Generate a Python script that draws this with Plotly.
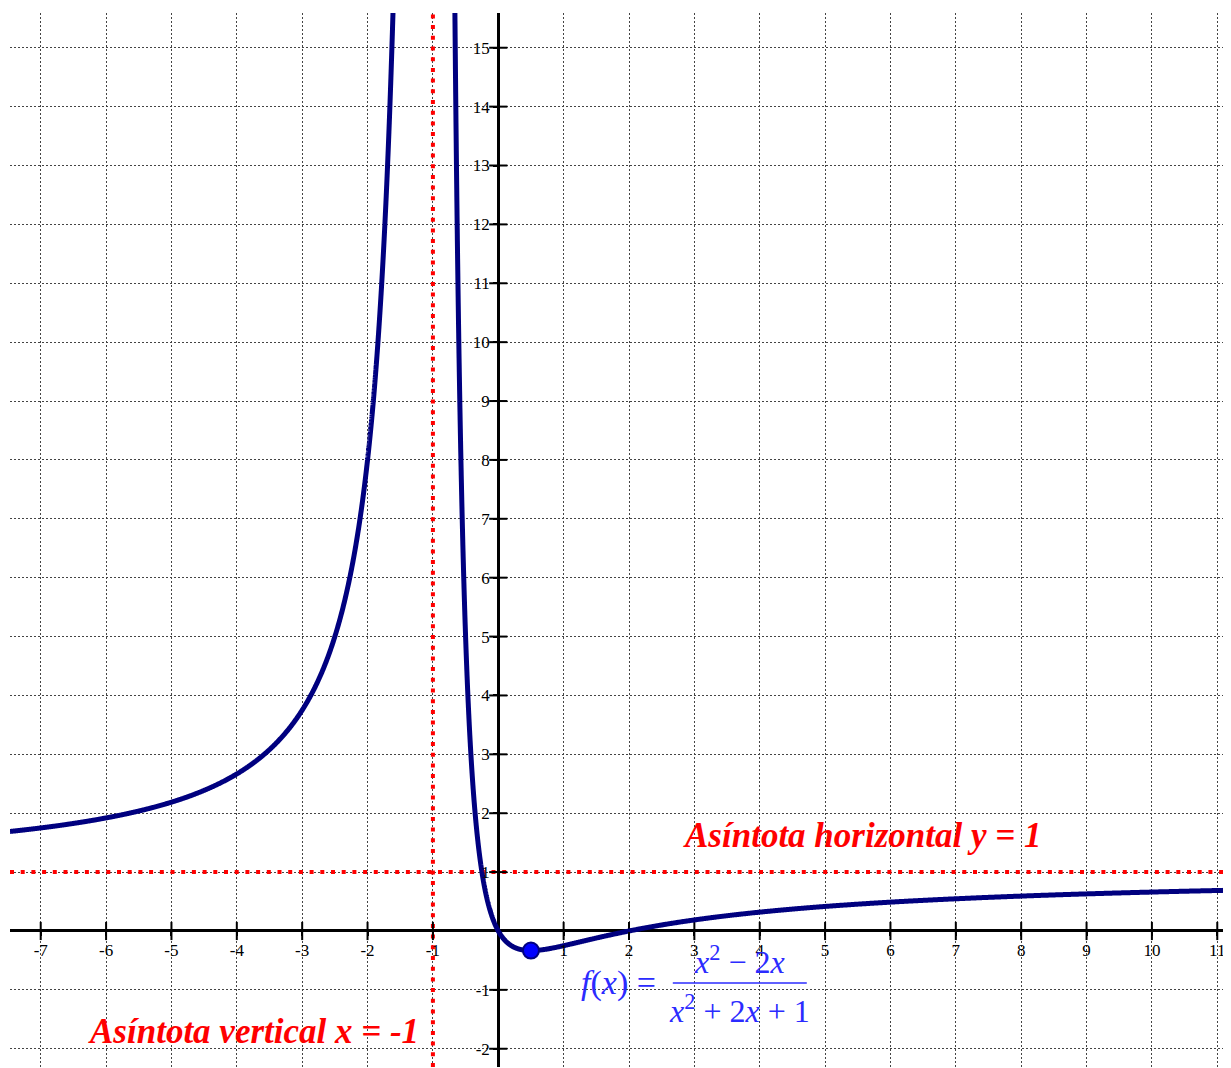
import numpy as np
import plotly.graph_objects as go

# ---- data (function shown in the chart: f(x) = (x^2 - 2x) / (x^2 + 2x + 1)) ----
num_coeffs = [1, -2, 0]     # x^2 - 2x
den_coeffs = [1, 2, 1]      # x^2 + 2x + 1
asym_vertical_x = -1
asym_horizontal_y = 1
min_point_x = [0.5]
min_point_y = [-1 / 3]

x_tick_vals = [-7, -6, -5, -4, -3, -2, -1, 1, 2, 3, 4, 5, 6, 7, 8, 9, 10, 11]
x_tick_text = ["-7", "-6", "-5", "-4", "-3", "-2", "-1", "1", "2", "3", "4", "5", "6", "7", "8", "9", "10", "11"]
y_tick_vals = [-2, -1, 1, 2, 3, 4, 5, 6, 7, 8, 9, 10, 11, 12, 13, 14, 15]
y_tick_text = ["-2", "-1", "1", "2", "3", "4", "5", "6", "7", "8", "9", "10", "11", "12", "13", "14", "15"]

X_RANGE = [-7.47, 11.21]
Y_RANGE = [-2.31, 15.59]

# ---- curve samples ----
def f(x):
    return np.polyval(num_coeffs, x) / np.polyval(den_coeffs, x)

left_x = np.concatenate([np.linspace(X_RANGE[0], -2.0, 800), np.linspace(-2.0, -1.56, 800)])
right_x = np.concatenate([np.linspace(-0.68, 0.5, 1000), np.linspace(0.5, X_RANGE[1], 1000)])
xs = list(left_x) + [None] + list(right_x)
ys = list(f(left_x)) + [None] + list(f(right_x))

fig = go.Figure()

# asymptotes
fig.add_trace(go.Scatter(
    x=[asym_vertical_x, asym_vertical_x], y=Y_RANGE, mode="lines",
    line=dict(color="#ff0000", width=4, dash="4px,6.7px"), hoverinfo="skip"))
fig.add_trace(go.Scatter(
    x=X_RANGE, y=[asym_horizontal_y, asym_horizontal_y], mode="lines",
    line=dict(color="#ff0000", width=4, dash="4px,6.7px"), hoverinfo="skip"))

# tick crosses on the axes
fig.add_trace(go.Scatter(
    x=x_tick_vals, y=[0] * len(x_tick_vals), mode="markers",
    marker=dict(symbol="line-ns", size=13, line=dict(color="black", width=2)),
    hoverinfo="skip"))
fig.add_trace(go.Scatter(
    x=[0] * len(y_tick_vals), y=y_tick_vals, mode="markers",
    marker=dict(symbol="line-ew", size=13, line=dict(color="black", width=2)),
    hoverinfo="skip"))

# function curve
fig.add_trace(go.Scatter(
    x=xs, y=ys, mode="lines", connectgaps=False,
    line=dict(color="#00007f", width=5, simplify=False), hoverinfo="skip"))

# minimum point
fig.add_trace(go.Scatter(
    x=min_point_x, y=min_point_y, mode="markers",
    marker=dict(size=16, color="#0000ff", line=dict(color="#00007f", width=2)),
    hoverinfo="skip"))

serif = "Liberation Serif"
blue = "#2b2bff"

annotations = [
    dict(x=5.56, y=1.63, text="<b><i>Asíntota horizontal y = 1</i></b>",
         font=dict(family=serif, size=35, color="#ff0000")),
    dict(x=-3.74, y=-1.70, text="<b><i>Asíntota vertical x = -1</i></b>",
         font=dict(family=serif, size=35, color="#ff0000")),
    dict(x=1.84, y=-0.88, text="<i>f</i>(<i>x</i>) =",
         font=dict(family=serif, size=34, color=blue)),
    dict(x=3.69, y=-0.50, text="<i>x</i><sup>2</sup> − 2<i>x</i>",
         font=dict(family=serif, size=32, color=blue)),
    dict(x=3.69, y=-1.33, text="<i>x</i><sup>2</sup> + 2<i>x</i> + 1",
         font=dict(family=serif, size=32, color=blue)),
]
for a in annotations:
    a.update(xref="x", yref="y", showarrow=False, xanchor="center", yanchor="middle")

fig.add_shape(type="line", xref="x", yref="y", x0=2.67, x1=4.72, y0=-0.885, y1=-0.885,
              line=dict(color=blue, width=1.5))

x_pos = (0 - Y_RANGE[0]) / (Y_RANGE[1] - Y_RANGE[0])
y_pos = (0 - X_RANGE[0]) / (X_RANGE[1] - X_RANGE[0])

fig.update_layout(
    width=1223, height=1060,
    margin=dict(l=2, r=0, t=5, b=1),
    paper_bgcolor="white", plot_bgcolor="white",
    showlegend=False,
    annotations=annotations,
    xaxis=dict(
        range=X_RANGE, anchor="free", position=x_pos,
        tickvals=x_tick_vals, ticktext=x_tick_text,
        ticks="outside", ticklen=4, tickwidth=2, tickcolor="black",
        tickfont=dict(family=serif, size=17, color="black"),
        showgrid=True, gridcolor="#444444", gridwidth=1, griddash="2px,2px",
        zeroline=True, zerolinecolor="black", zerolinewidth=2.5,
        showline=False, fixedrange=True,
    ),
    yaxis=dict(
        range=Y_RANGE, anchor="free", position=y_pos,
        tickvals=y_tick_vals, ticktext=y_tick_text,
        ticks="outside", ticklen=5, tickwidth=2, tickcolor="black",
        tickfont=dict(family=serif, size=17, color="black"),
        showgrid=True, gridcolor="#444444", gridwidth=1, griddash="2px,2px",
        zeroline=True, zerolinecolor="black", zerolinewidth=2.5,
        showline=False, fixedrange=True,
    ),
)

fig.write_html("out.html")
